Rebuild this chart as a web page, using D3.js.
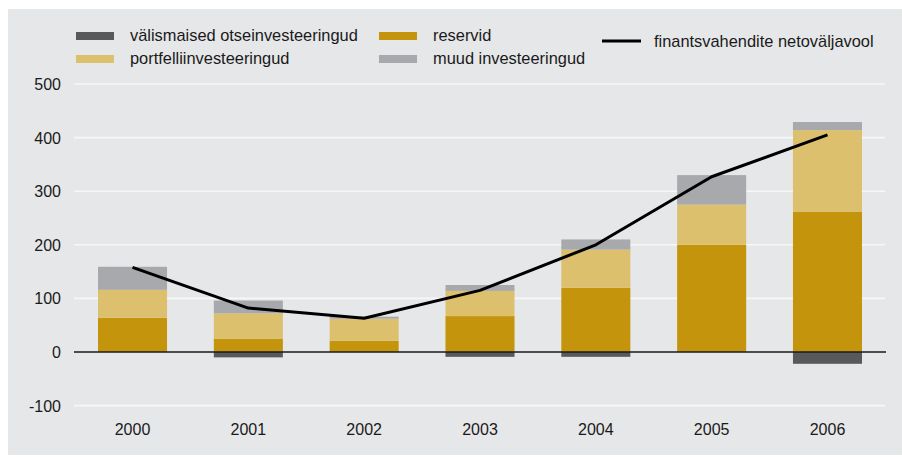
<!DOCTYPE html>
<html lang="et">
<head>
<meta charset="utf-8">
<title>finantsvahendite netoväljavool</title>
<script src="https://cdn.jsdelivr.net/npm/d3@7"></script>
<style>
  body { margin: 0; background: #fff; }
  text { font-family: "Liberation Sans", Arial, sans-serif; fill: #1a1a1a; }
</style>
</head>
<body>
<svg width="902" height="457"></svg>
<script>
// data
var years = ["2000", "2001", "2002", "2003", "2004", "2005", "2006"];
var otse = [0, -10, 0, -9, -9, 0, -22];        // välismaised otseinvesteeringud
var reservid = [64, 25, 21, 67, 120, 200, 262];
var portfell = [52, 47, 41, 47, 71, 75, 152];  // portfelliinvesteeringud
var muud = [43, 24, 4, 11, 19, 55, 15];        // muud investeeringud
var netovool = [158, 82, 63, 115, 200, 327, 405];
var yTicks = [-100, 0, 100, 200, 300, 400, 500];

var svg = d3.select("svg");

svg.append("rect")
   .attr("x", 8).attr("y", 9)
   .attr("width", 894).attr("height", 446)
   .attr("fill", "#e6e7e9");

var x = d3.scaleBand()
          .domain(years)
          .range([74.6, 885.4])
          .paddingInner(0.404)
          .paddingOuter(0.202);

var y = d3.scaleLinear()
          .domain([-100, 500])
          .range([405.6, 84]);

var keys = ["otse", "reservid", "portfell", "muud"];
var colors = {otse: "#58595b", reservid: "#c4940c", portfell: "#dcc06e", muud: "#a8a9ac"};

var rows = years.map(function(d, i) {
  return {year: d, otse: otse[i], reservid: reservid[i], portfell: portfell[i], muud: muud[i]};
});

var series = d3.stack()
               .keys(keys)
               .offset(d3.stackOffsetDiverging)(rows);

// grid
svg.append("g")
   .selectAll("line")
   .data(yTicks.filter(function(d) { return d != 0; }))
   .enter()
   .append("line")
   .attr("x1", 74).attr("x2", 885)
   .attr("y1", function(d) { return y(d); })
   .attr("y2", function(d) { return y(d); })
   .attr("stroke", "#f7f7f8")
   .attr("stroke-width", 1.6);

svg.append("g")
   .selectAll("text")
   .data(yTicks)
   .enter()
   .append("text")
   .attr("x", 61)
   .attr("y", function(d) { return y(d) + 6; })
   .attr("text-anchor", "end")
   .attr("font-size", "16px")
   .text(function(d) { return d; });

// bars
svg.append("g")
   .selectAll("g")
   .data(series)
   .enter()
   .append("g")
   .attr("fill", function(d) { return colors[d.key]; })
   .selectAll("rect")
   .data(function(d) { return d; })
   .enter()
   .append("rect")
   .attr("x", function(d) { return x(d.data.year); })
   .attr("width", x.bandwidth())
   .attr("y", function(d) { return y(Math.max(d[0], d[1])); })
   .attr("height", function(d) { return Math.abs(y(d[0]) - y(d[1])); });

// zero line
svg.append("line")
   .attr("x1", 74).attr("x2", 886)
   .attr("y1", y(0)).attr("y2", y(0))
   .attr("stroke", "#1a1a1a")
   .attr("stroke-width", 1.5);

// net outflow line
var line = d3.line()
             .x(function(d, i) { return x(years[i]) + x.bandwidth() / 2; })
             .y(function(d) { return y(d); });

svg.append("path")
   .datum(netovool)
   .attr("d", line)
   .attr("fill", "none")
   .attr("stroke", "#000")
   .attr("stroke-width", 3)
   .attr("stroke-linejoin", "round");

// x labels
svg.append("g")
   .selectAll("text")
   .data(years)
   .enter()
   .append("text")
   .attr("x", function(d) { return x(d) + x.bandwidth() / 2; })
   .attr("y", 435)
   .attr("text-anchor", "middle")
   .attr("font-size", "16px")
   .text(function(d) { return d; });

// legend
var legend = [
  {label: "välismaised otseinvesteeringud", key: "otse", x: 76, y: 32},
  {label: "portfelliinvesteeringud", key: "portfell", x: 76, y: 55},
  {label: "reservid", key: "reservid", x: 379, y: 32},
  {label: "muud investeeringud", key: "muud", x: 379, y: 55}
];

svg.selectAll("legrect")
   .data(legend)
   .enter()
   .append("rect")
   .attr("x", function(d) { return d.x; })
   .attr("y", function(d) { return d.y; })
   .attr("width", 38)
   .attr("height", 8)
   .attr("fill", function(d) { return colors[d.key]; });

svg.selectAll("legtext")
   .data(legend)
   .enter()
   .append("text")
   .attr("x", function(d) { return d.x + 54; })
   .attr("y", function(d) { return d.y + 9; })
   .attr("font-size", "16.4px")
   .text(function(d) { return d.label; });

svg.append("line")
   .attr("x1", 602).attr("x2", 641)
   .attr("y1", 41).attr("y2", 41)
   .attr("stroke", "#000")
   .attr("stroke-width", 3);

svg.append("text")
   .attr("x", 654)
   .attr("y", 47)
   .attr("font-size", "16.4px")
   .text("finantsvahendite netoväljavool");
</script>
</body>
</html>
